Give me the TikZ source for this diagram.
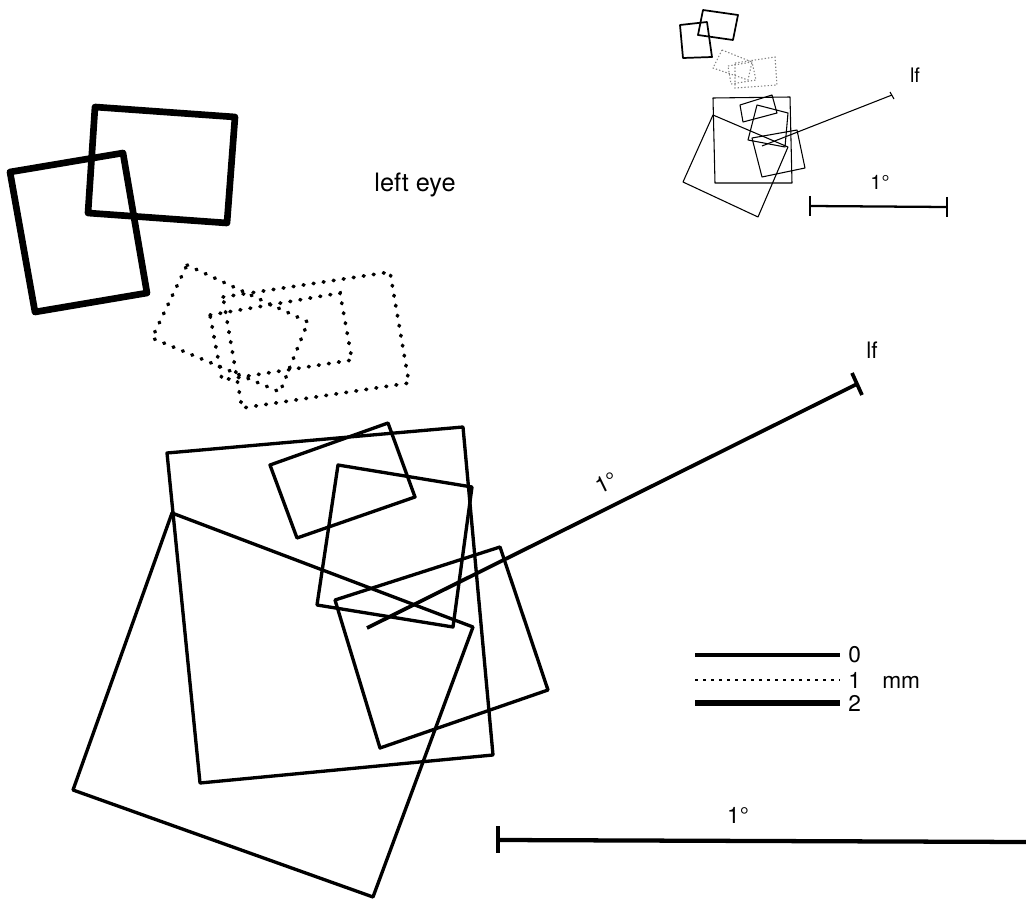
\documentclass[tikz,border=0pt]{standalone}
\usepackage{fontspec}
\setmainfont{TeX Gyre Heros}
\begin{document}
\begin{tikzpicture}[x=0.75pt,y=-0.75pt,
  solidr/.style={line width=2.5pt,line join=round},
  thickr/.style={line width=5pt,line join=round},
  dotr/.style={line width=2.8pt,line cap=round,dash pattern=on 0.6pt off 7pt},
  thinr/.style={line width=0.8pt,line join=round},
  thindot/.style={line width=0.8pt,dash pattern=on 1pt off 1.5pt,gray},
  lbl/.style={font=\fontsize{17}{17}\selectfont,inner sep=0pt}]
\useasboundingbox (0,0) rectangle (1026,899);
% thick rectangles (2 mm)
\draw[thickr] (95,107) -- (235,117) -- (227,223) -- (88,213) -- cycle;
\draw[thickr] (10,172) -- (123,153) -- (147,293) -- (35,312) -- cycle;
% dotted rectangles (1 mm)
\draw[dotr] (187,265) -- (308,322) -- (280,392) -- (152,338) -- cycle;
\draw[dotr] (223,297) -- (390,272) -- (409,383) -- (242,408) -- cycle;
\draw[dotr] (210,315) -- (340,293) -- (352,360) -- (222,380) -- cycle;
% solid rectangles (0)
\draw[solidr] (167,453) -- (463,427) -- (493,755) -- (200,783) -- cycle;
\draw[solidr] (172,513) -- (473,627) -- (373,897) -- (73,790) -- cycle;
\draw[solidr] (270,465) -- (388,423) -- (415,497) -- (297,538) -- cycle;
\draw[solidr] (338,465) -- (472,487) -- (453,627) -- (317,605) -- cycle;
\draw[solidr] (335,600) -- (500,547) -- (548,690) -- (380,748) -- cycle;
% line to lf
\coordinate (ls) at (367,628);
\coordinate (le) at (857,384);
\coordinate (lt1) at (852,373);
\coordinate (lt2) at (862,395);
\draw[line width=2.8pt] (ls) -- (le);
\draw[line width=2.8pt] (lt1) -- (lt2);
\node[lbl,rotate=26] (deg1) at (606,483) {1°};
\node[lbl] (lf) at (872,350) {lf};
% label
\node[lbl,font=\fontsize{19}{19}\selectfont] (eye) at (415,185) {left eye};
% legend
\coordinate (l0a) at (695,655); \coordinate (l0b) at (840,655);
\coordinate (l1a) at (695,680); \coordinate (l1b) at (840,680);
\coordinate (l2a) at (695,703); \coordinate (l2b) at (840,703);
\draw[line width=2.4pt] (l0a) -- (l0b);
\draw[line width=1.6pt,dash pattern=on 2pt off 4pt] (l1a) -- (l1b);
\draw[line width=4pt] (l2a) -- (l2b);
\node[lbl,anchor=west] (t0) at (848,655) {0};
\node[lbl,anchor=west] (t1) at (848,680) {1\enspace\, mm};
\node[lbl,anchor=west] (t2) at (848,703) {2};
% big scale bar
\coordinate (sa) at (498,840); \coordinate (sb) at (1026,842);
\coordinate (sat) at (498,826); \coordinate (sab) at (498,853);
\draw[line width=3.2pt] (sa) -- (sb);
\draw[line width=3.2pt] (sat) -- (sab);
\node[lbl] (sdeg) at (738,815) {1°};
% inset
\begin{scope}
\draw[thinr,line width=1.3pt] (680,25) -- (707,22) -- (712,57) -- (683,58) -- cycle;
\draw[thinr,line width=1.3pt] (703,10) -- (738,15) -- (733,40) -- (698,35) -- cycle;
\draw[thindot] (722,50) -- (752,62) -- (748,80) -- (713,68) -- cycle;
\draw[thindot] (735,63) -- (775,57) -- (777,85) -- (735,88) -- cycle;
\draw[thindot] (728,66) -- (752,62) -- (756,80) -- (731,84) -- cycle;
\draw[thinr] (713,98) -- (790,97) -- (792,183) -- (715,183) -- cycle;
\draw[thinr] (713,115) -- (788,147) -- (758,217) -- (683,182) -- cycle;
\draw[thinr] (740,105) -- (772,95) -- (777,113) -- (743,122) -- cycle;
\draw[thinr] (757,105) -- (788,113) -- (785,147) -- (748,140) -- cycle;
\draw[thinr] (752,138) -- (797,130) -- (805,168) -- (762,177) -- cycle;
\coordinate (is) at (762,146); \coordinate (ie) at (892,95);
\coordinate (it1) at (890,92); \coordinate (it2) at (894,99);
\draw[thinr] (is) -- (ie);
\draw[thinr] (it1) -- (it2);
\node[lbl,font=\fontsize{15}{15}\selectfont] (ilf) at (915,75) {lf};
\node[lbl,font=\fontsize{15}{15}\selectfont] (ideg) at (880,182) {1°};
\coordinate (ia) at (810,206); \coordinate (ib) at (947,207);
\draw[line width=1.7pt] (ia) -- (ib);
\draw[line width=1.7pt] (810,196) -- (810,216);
\draw[line width=1.7pt] (947,197) -- (947,217);
\end{scope}
\end{tikzpicture}
\end{document}
